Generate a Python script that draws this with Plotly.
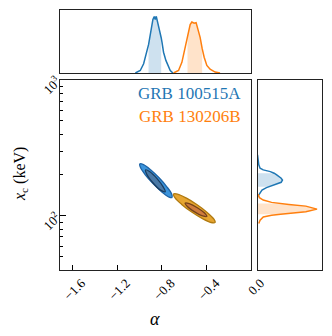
import numpy as np
import plotly.graph_objects as go

# posterior contours (alpha, x_c in keV)
blue_outer_alpha = [-0.710, -0.714, -0.758, -0.826, -0.902, -0.965, -0.998, -0.992, -0.949, -0.880, -0.804, -0.741]
blue_outer_xc = [136.4, 145.3, 164.3, 190.8, 218.7, 238.4, 241.5, 226.8, 200.6, 172.7, 150.7, 138.2]
blue_inner_alpha = [-0.771, -0.788, -0.842, -0.908, -0.947, -0.935, -0.881, -0.816]
blue_inner_xc = [150.6, 162.7, 187.2, 211.3, 218.0, 201.8, 175.4, 155.4]

orange_outer_alpha = [-0.325, -0.339, -0.399, -0.489, -0.585, -0.661, -0.697, -0.683, -0.624, -0.534, -0.438, -0.361]
orange_outer_xc = [89.4, 95.3, 106.5, 121.2, 135.6, 144.7, 144.8, 135.8, 121.5, 106.7, 95.4, 89.4]
orange_inner_alpha = [-0.399, -0.419, -0.484, -0.556, -0.593, -0.573, -0.508, -0.436]
orange_inner_xc = [99.0, 104.9, 114.9, 123.1, 124.2, 117.2, 107.0, 99.8]

# marginal of alpha
blue_alpha_grid = [-1.038, -0.994, -0.964, -0.934, -0.920, -0.911, -0.896, -0.881, -0.869, -0.860, -0.851,
                   -0.840, -0.827, -0.816, -0.807, -0.800, -0.786, -0.765, -0.747, -0.726, -0.702]
blue_alpha_pdf = [0, 0.04, 0.147, 0.33, 0.45, 0.54, 0.72, 0.85, 0.895, 0.85, 0.90,
                  0.82, 0.69, 0.66, 0.56, 0.49, 0.33, 0.20, 0.12, 0.04, 0]
blue_alpha_band = (-0.920, -0.807)

orange_alpha_grid = [-0.697, -0.652, -0.622, -0.593, -0.572, -0.548, -0.533, -0.512, -0.495, -0.474, -0.459,
                     -0.441, -0.423, -0.399, -0.370, -0.325, -0.281]
orange_alpha_pdf = [0, 0.04, 0.17, 0.41, 0.60, 0.77, 0.81, 0.79, 0.80, 0.67, 0.565,
                    0.39, 0.25, 0.12, 0.06, 0.015, 0]
orange_alpha_band = (-0.572, -0.441)

# marginal of x_c
blue_xc_grid = [138.3, 146.5, 155.0, 161.3, 164.0, 166.8, 170.8, 176.7, 183.8, 189.2, 200.3, 206.1,
                211.8, 218.0, 224.4, 237.4, 281.6]
blue_xc_pdf = [0.0, 0.04, 0.07, 0.14, 0.18, 0.22, 0.30, 0.37, 0.39, 0.37, 0.30, 0.26,
               0.20, 0.09, 0.04, 0.02, 0.0]
blue_xc_band = (164.0, 206.1)

orange_xc_grid = [87.8, 92.9, 98.3, 101.2, 102.9, 104.2, 107.1, 112.1, 118.0, 121.5, 123.6, 125.7,
                  130.7, 136.0, 144.1]
orange_xc_pdf = [0.02, 0.04, 0.09, 0.22, 0.36, 0.49, 0.755, 0.93, 0.755, 0.49, 0.35, 0.22,
                 0.09, 0.03, 0.01]
orange_xc_band = (102.9, 123.6)

BLUE = "#1f77b4"
ORANGE = "#ff7f0e"
FONT = "Liberation Serif"

fig = go.Figure()


def closed(a, b):
    return list(a) + [a[0]], list(b) + [b[0]]


def add_contour(alpha, xc, fill, edge):
    xs, ys = closed(alpha, xc)
    fig.add_trace(go.Scatter(x=xs, y=ys, mode="lines", fill="toself", fillcolor=fill,
                             line=dict(color=edge, width=1.3, shape="spline"),
                             xaxis="x", yaxis="y", hoverinfo="skip"))


add_contour(blue_outer_alpha, blue_outer_xc, "#3b94dc", "#1f64a6")
add_contour(blue_inner_alpha, blue_inner_xc, "#4a79a6", "#1b3d60")
add_contour(orange_outer_alpha, orange_outer_xc, "#e6a531", "#b07a10")
add_contour(orange_inner_alpha, orange_inner_xc, "#cf7b3d", "#74421a")


def add_marginal(grid, pdf, band, color, fillcolor, horizontal):
    grid = np.array(grid)
    pdf = np.array(pdf)
    m = (grid >= band[0]) & (grid <= band[1])
    if horizontal:
        fig.add_trace(go.Scatter(x=pdf[m], y=grid[m], mode="lines", fill="tozerox",
                                 fillcolor=fillcolor, line=dict(width=0),
                                 xaxis="x3", yaxis="y3", hoverinfo="skip"))
        fig.add_trace(go.Scatter(x=pdf, y=grid, mode="lines", line=dict(color=color, width=1.5),
                                 xaxis="x3", yaxis="y3", hoverinfo="skip"))
    else:
        fig.add_trace(go.Scatter(x=grid[m], y=pdf[m], mode="lines", fill="tozeroy",
                                 fillcolor=fillcolor, line=dict(width=0),
                                 xaxis="x2", yaxis="y2", hoverinfo="skip"))
        fig.add_trace(go.Scatter(x=grid, y=pdf, mode="lines", line=dict(color=color, width=1.5),
                                 xaxis="x2", yaxis="y2", hoverinfo="skip"))


add_marginal(blue_alpha_grid, blue_alpha_pdf, blue_alpha_band, BLUE, "rgba(31,119,180,0.22)", False)
add_marginal(orange_alpha_grid, orange_alpha_pdf, orange_alpha_band, ORANGE, "rgba(255,127,14,0.22)", False)
add_marginal(blue_xc_grid, blue_xc_pdf, blue_xc_band, BLUE, "rgba(31,119,180,0.22)", True)
add_marginal(orange_xc_grid, orange_xc_pdf, orange_xc_band, ORANGE, "rgba(255,127,14,0.22)", True)

frame = dict(showline=True, mirror=True, linecolor="#222222", linewidth=1,
             showgrid=False, zeroline=False, automargin=False)
x_range = [-1.707, 0.0]
y_range = [np.log10(40.3), 3.0]
# the page body keeps its 8px margin, so the figure is 8px smaller than the window
main_x = [0.1620, 0.7515]
main_y = [0.2027, 0.7805]

fig.update_layout(
    width=324, height=328,
    margin=dict(l=0, r=0, t=0, b=0, autoexpand=False),
    paper_bgcolor="white", plot_bgcolor="white",
    showlegend=False,
    font=dict(family=FONT, size=13, color="black"),
    xaxis=dict(frame, domain=main_x, range=x_range, anchor="y",
               tickvals=[-1.6, -1.2, -0.8, -0.4, 0.0], tickformat=".1f",
               ticks="inside", ticklen=5, tickcolor="black", tickangle=-45,
               ticklabelshift=9, tickfont=dict(size=13)),
    yaxis=dict(frame, domain=main_y, type="log", range=y_range, anchor="x",
               tickvals=[100, 1000], ticktext=["10<sup>2</sup>", "10<sup>3</sup>"],
               ticks="inside", ticklen=6, tickcolor="black", tickangle=-45,
               tickfont=dict(size=13),
               minor=dict(ticks="inside", ticklen=3, tickcolor="black",
                          tickvals=[40, 50, 60, 70, 80, 90, 200, 300, 400, 500, 600, 700, 800, 900])),
    xaxis2=dict(frame, domain=main_x, range=x_range, anchor="y2", showticklabels=False),
    yaxis2=dict(frame, domain=[0.8018, 0.9939], range=[0, 1], anchor="x2", showticklabels=False),
    xaxis3=dict(frame, domain=[0.7701, 0.9676], range=[0, 1], anchor="y3", showticklabels=False),
    yaxis3=dict(frame, domain=main_y, type="log", range=y_range, anchor="x3", showticklabels=False),
)

fig.add_annotation(text="GRB 100515A", xref="paper", yref="paper", x=0.7262, y=0.7393,
                   xanchor="right", yanchor="middle", showarrow=False,
                   font=dict(family=FONT, size=17, color=BLUE))
fig.add_annotation(text="GRB 130206B", xref="paper", yref="paper", x=0.7262, y=0.6707,
                   xanchor="right", yanchor="middle", showarrow=False,
                   font=dict(family=FONT, size=17, color=ORANGE))
fig.add_annotation(text="<i>α</i>", xref="paper", yref="paper", x=0.4537, y=0.0518,
                   xanchor="center", yanchor="middle", showarrow=False,
                   font=dict(family=FONT, size=18))
fig.add_annotation(text="<i>x</i><sub>c</sub> (keV)", xref="paper", yref="paper", x=0.0370, y=0.4939,
                   xanchor="center", yanchor="middle", showarrow=False, textangle=-90,
                   font=dict(family=FONT, size=16))

fig.write_html("out.html")
